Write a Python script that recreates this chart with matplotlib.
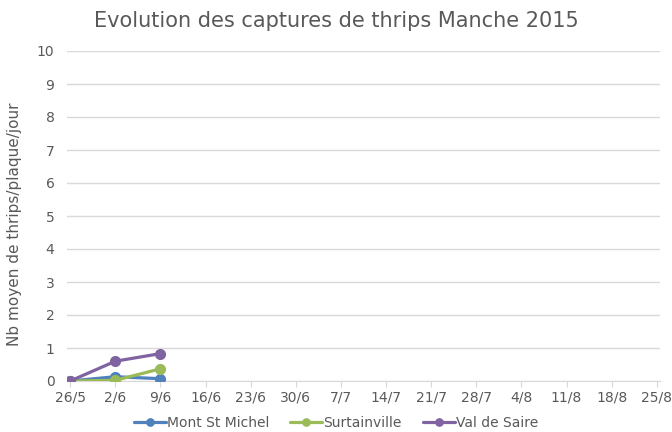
import matplotlib
matplotlib.use('Agg')
import matplotlib.pyplot as plt

# dates on the axis, every week from 26/5
date_labels = ['26/5', '2/6', '9/6', '16/6', '23/6', '30/6', '7/7', '14/7',
               '21/7', '28/7', '4/8', '11/8', '18/8', '25/8']
# sample days (days since 26/5)
sample_days = [0, 7, 14]

mont_st_michel = [0.0, 0.13, 0.07]
surtainville = [0.0, 0.02, 0.37]
val_de_saire = [0.0, 0.60, 0.83]

series = {
    'Mont St Michel': (mont_st_michel, '#4F81BD'),
    'Surtainville': (surtainville, '#9BBB59'),
    'Val de Saire': (val_de_saire, '#8064A2'),
}

grey = '#595959'
plt.rcParams['font.family'] = 'DejaVu Sans'

fig = plt.figure(figsize=(6.72, 4.32), dpi=100)
ax = fig.add_axes([67 / 672, 1 - 381 / 432, (660 - 67) / 672, (381 - 51) / 432])

for name, (values, color) in series.items():
    ax.plot(sample_days, values, color=color, linewidth=2.3, marker='o',
            markersize=7, label=name, solid_capstyle='round', zorder=3)

ax.set_ylim(0, 10)
ax.set_yticks(range(0, 11))
ax.set_xlim(-0.5, 91.5)
ax.set_xticks([7 * i for i in range(len(date_labels))])
ax.set_xticklabels(date_labels)

ax.grid(axis='y', color='#D9D9D9', linewidth=1)
ax.set_axisbelow(True)
for side in ['top', 'right', 'left']:
    ax.spines[side].set_visible(False)
ax.spines['bottom'].set_color('#D9D9D9')
ax.tick_params(axis='y', length=0, labelsize=10, labelcolor=grey, pad=9)
ax.tick_params(axis='x', length=4, color='#D9D9D9', labelsize=10,
               labelcolor=grey, pad=3)

fig.text(15 / 672, 1 - 224 / 432, 'Nb moyen de thrips/plaque/jour',
         rotation=90, ha='center', va='center', fontsize=11, color=grey)
fig.text(0.5, 1 - 21 / 432, 'Evolution des captures de thrips Manche 2015',
         ha='center', va='center', fontsize=15, color=grey)

fig.legend(loc='center', bbox_to_anchor=(0.5, 1 - 423 / 432), ncol=3,
           frameon=False, fontsize=10, labelcolor=grey, handlelength=2.3,
           columnspacing=1.5, handletextpad=0.1, markerscale=0.75)

fig.savefig('out.png', dpi=100)
